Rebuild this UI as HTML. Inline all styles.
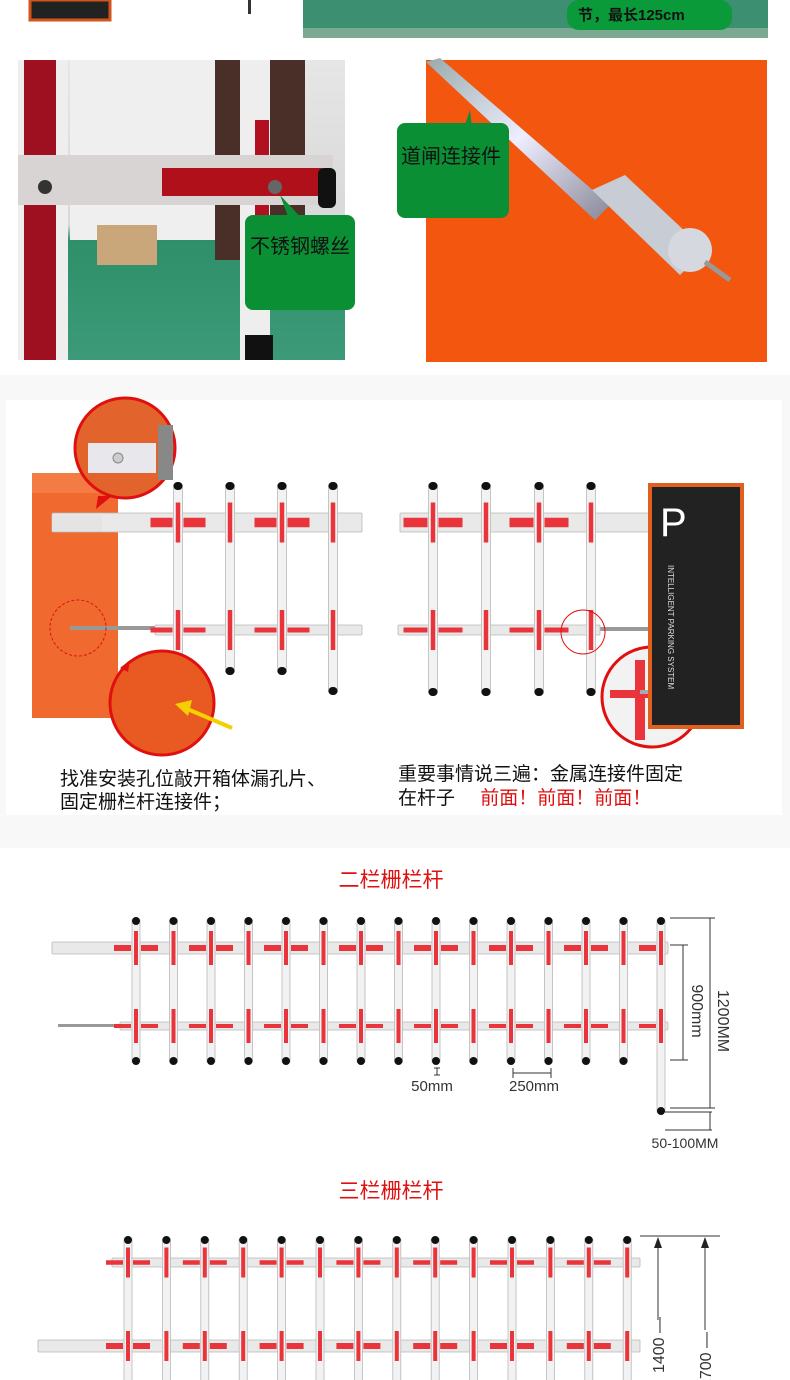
<!DOCTYPE html>
<html><head><meta charset="utf-8"><style>
body{margin:0;width:790px;height:1380px;overflow:hidden;background:#fff;font-family:"Liberation Sans","Noto Sans CJK SC",sans-serif}
svg{display:block}
text{font-family:"Liberation Sans","Noto Sans CJK SC",sans-serif}
</style></head><body>
<svg id="s" width="790" height="1380" viewBox="0 0 790 1380" xmlns="http://www.w3.org/2000/svg">
<defs>
<linearGradient id="rod" x1="0" y1="0" x2="1" y2="1"><stop offset="0" stop-color="#9aa"/><stop offset=".5" stop-color="#eef"/><stop offset="1" stop-color="#889"/></linearGradient>
<linearGradient id="floor" x1="0" y1="0" x2="0" y2="1"><stop offset="0" stop-color="#e6e6e6"/><stop offset=".55" stop-color="#d8d8d8"/><stop offset=".6" stop-color="#2f8f6a"/><stop offset="1" stop-color="#3c9a78"/></linearGradient>
</defs>
<rect x="30" y="0" width="80" height="20" fill="#222"/><rect x="30" y="0" width="80" height="20" fill="none" stroke="#d2541a" stroke-width="3"/>
<rect x="248" y="0" width="3" height="14" fill="#333"/>
<rect x="303" y="0" width="465" height="38" fill="#3d8f72"/>
<rect x="303" y="28" width="465" height="10" fill="#7aa890"/>
<rect x="567" y="0" width="165" height="30" rx="12" fill="#0a9a3a"/>
<text x="578" y="20" font-size="15" font-weight="bold" fill="#111">节，最长125cm</text>
<rect x="18" y="60" width="327" height="300" fill="url(#floor)"/>
<rect x="70" y="60" width="150" height="180" fill="#efefef"/>
<rect x="215" y="60" width="30" height="200" fill="#4a2e28"/>
<rect x="270" y="60" width="35" height="210" fill="#4a2e28"/>
<rect x="97" y="225" width="60" height="40" fill="#c9a77a"/>
<rect x="18" y="60" width="50" height="300" fill="#eee"/><rect x="24" y="60" width="32" height="300" fill="#9e1020"/>
<rect x="240" y="60" width="30" height="300" fill="#eee"/><rect x="255" y="120" width="14" height="140" fill="#b01020"/>
<rect x="245" y="335" width="28" height="25" fill="#111"/>
<rect x="18" y="155" width="315" height="50" fill="#d8d4d4"/><rect x="162" y="168" width="160" height="28" fill="#b0101a"/>
<rect x="318" y="168" width="18" height="40" rx="6" fill="#111"/>
<circle cx="45" cy="187" r="7" fill="#333"/><circle cx="275" cy="187" r="7" fill="#666"/>
<polygon points="280,195 305,222 290,222" fill="#0a8f35"/>
<rect x="245" y="215" width="110" height="95" rx="8" fill="#0a8f35"/>
<text x="250" y="253" font-size="20" fill="#111" font-family="Noto Sans CJK SC">不锈钢螺丝</text>
<rect x="426" y="60" width="341" height="302" fill="#f2560f"/>
<polygon points="426,62 440,58 610,205 595,220" fill="url(#rod)"/>
<polygon points="592,190 625,175 705,250 680,275" fill="#c8ccd4"/>
<circle cx="690" cy="250" r="22" fill="#d5d8de"/>
<line x1="705" y1="262" x2="730" y2="280" stroke="#999" stroke-width="5"/>
<polygon points="455,155 470,110 475,155" fill="#0a8f35"/>
<rect x="397" y="123" width="112" height="95" rx="8" fill="#0a8f35"/>
<text x="401" y="163" font-size="20" fill="#111" font-family="Noto Sans CJK SC">道闸连接件</text>
<rect x="0" y="375" width="790" height="25" fill="#f8f8f8"/>
<rect x="0" y="815" width="790" height="33" fill="#f8f8f8"/>
<rect x="0" y="400" width="6" height="415" fill="#f8f8f8"/><rect x="782" y="400" width="8" height="415" fill="#f8f8f8"/>
<rect x="32" y="473" width="86" height="245" fill="#f06a30"/>
<rect x="32" y="473" width="86" height="20" fill="#f47b44"/>
<g id="g"></g>
<circle cx="125" cy="448" r="50" fill="#e2632c" stroke="#e01010" stroke-width="3"/>
<rect x="88" y="443" width="68" height="30" fill="#e8e8ec"/><circle cx="118" cy="458" r="5" fill="#ccc" stroke="#888"/>
<rect x="158" y="425" width="15" height="55" fill="#888"/>
<polygon points="98,496 112,496 96,509" fill="#e01010"/>
<circle cx="78" cy="628" r="28" fill="none" stroke="#e01010" stroke-dasharray="3,2"/>
<circle cx="162" cy="703" r="52" fill="#e85a22" stroke="#e01010" stroke-width="3"/>
<polygon points="120,668 130,660 128,672" fill="#e01010"/>
<line x1="232" y1="728" x2="185" y2="708" stroke="#f5d000" stroke-width="4"/><polygon points="175,704 192,700 188,716" fill="#f5d000"/>
<text x="60" y="785" font-size="19" fill="#111" font-family="Noto Sans CJK SC">找准安装孔位敲开箱体漏孔片、</text>
<text x="60" y="808" font-size="19" fill="#111" font-family="Noto Sans CJK SC">固定栅栏杆连接件；</text>
<g id="g2"></g>
<rect x="650" y="485" width="92" height="242" fill="#222" stroke="#e06020" stroke-width="4"/>
<text x="660" y="536" font-size="40" fill="#fff">P</text>
<text x="668" y="565" font-size="8" fill="#ddd" transform="rotate(90 668 565)">INTELLIGENT PARKING SYSTEM</text>
<text x="398" y="780" font-size="19" fill="#111" font-family="Noto Sans CJK SC">重要事情说三遍：金属连接件固定</text>
<text x="398" y="804" font-size="19" fill="#111" font-family="Noto Sans CJK SC">在杆子 <tspan fill="#e01010" dx="20">前面！前面！前面！</tspan></text>
<text x="391" y="887" font-size="21" fill="#e01010" text-anchor="middle" font-family="Noto Sans CJK SC">二栏栅栏杆</text>
<text x="391" y="1198" font-size="21" fill="#e01010" text-anchor="middle" font-family="Noto Sans CJK SC">三栏栅栏杆</text>
<g stroke="#333" stroke-width="1" fill="none">
<line x1="710" y1="918" x2="710" y2="1108"/><line x1="670" y1="918" x2="715" y2="918"/><line x1="670" y1="1108" x2="715" y2="1108"/>
<line x1="683" y1="945" x2="683" y2="1060"/><line x1="670" y1="945" x2="688" y2="945"/><line x1="670" y1="1060" x2="688" y2="1060"/>
<line x1="437" y1="1068" x2="437" y2="1075"/><line x1="434" y1="1068" x2="440" y2="1068"/><line x1="434" y1="1075" x2="440" y2="1075"/>
<line x1="513" y1="1073" x2="551" y2="1073"/><line x1="513" y1="1068" x2="513" y2="1078"/><line x1="551" y1="1068" x2="551" y2="1078"/>
<line x1="665" y1="1112" x2="712" y2="1112"/><line x1="665" y1="1130" x2="712" y2="1130"/><line x1="710" y1="1112" x2="710" y2="1130"/>
<line x1="658" y1="1240" x2="658" y2="1320"/><line x1="705" y1="1240" x2="705" y2="1330"/>
<line x1="640" y1="1236" x2="720" y2="1236"/>
</g>
<polygon points="654,1248 662,1248 658,1237" fill="#222"/><polygon points="701,1248 709,1248 705,1237" fill="#222"/>
<text x="726" y="1013" font-size="16" fill="#333" text-anchor="middle" transform="rotate(90 718 1013)">1200MM</text>
<text x="700" y="1003" font-size="16" fill="#333" text-anchor="middle" transform="rotate(90 692 1003)">900mm</text>
<text x="432" y="1091" font-size="15" fill="#333" text-anchor="middle">50mm</text>
<text x="534" y="1091" font-size="15" fill="#333" text-anchor="middle">250mm</text>
<text x="685" y="1148" font-size="14" fill="#333" text-anchor="middle">50-100MM</text>
<text x="664" y="1345" font-size="16" fill="#333" text-anchor="middle" transform="rotate(-90 664 1345)">1400 —</text>
<text x="711" y="1360" font-size="16" fill="#333" text-anchor="middle" transform="rotate(-90 711 1360)">1700 —</text>
</svg>
<script>
var G=document.getElementById('g'),N='http://www.w3.org/2000/svg';
function r(x,y,w,h,f,rx,st){var e=document.createElementNS(N,'rect');e.setAttribute('x',x);e.setAttribute('y',y);e.setAttribute('width',w);e.setAttribute('height',h);e.setAttribute('fill',f);if(rx)e.setAttribute('rx',rx);if(st){e.setAttribute('stroke',st);e.setAttribute('stroke-width','0.8');}G.appendChild(e);}
function beam(x1,x2,y,h){r(x1,y,x2-x1,h,'#e9e9e9',1,'#b8b8b8');}
function post(x,y1,y2,w){r(x-w/2,y1,w,y2-y1,'#f2f2f2',0,'#b8b8b8');r(x-w/2,y1-3,w,8,'#111',4);r(x-w/2,y2-5,w,8,'#111',4);}
function fence(xs,bars,y1,y2s,w,vl,hl,gap){
 bars.forEach(function(b){beam(b[0],b[1],b[2],b[3]);});
 xs.forEach(function(x,i){post(x,y1,y2s[i],w);
  bars.forEach(function(b){var cy=b[2]+b[3]/2;r(x-w/4,cy-vl/2,w/2,vl,'#e8343a');
   if(i%2==0&&b[4]!==false){var hh=Math.max(3,b[3]*0.5);r(x-w/2-hl-1,cy-hh/2,hl,hh,'#e8343a');if(x+w/2+1+hl<b[1])r(x+w/2+1,cy-hh/2,hl,hh,'#e8343a');}});});}
// middle left
r(70,626,85,4,'#999');
fence([178,230,282,333],[[52,362,513,19],[155,362,625,10]],485,[672,672,672,692],9,40,22);
r(52,515,50,16,'#e4e4e4');
// middle right
r(600,627,50,4,'#999');
fence([433,486,539,591],[[400,650,513,19],[398,600,625,10]],485,[693,693,693,693],9,40,24);
G=document.getElementById('g2');
var c=document.createElementNS(N,'circle');c.setAttribute('cx',583);c.setAttribute('cy',632);c.setAttribute('r',22);c.setAttribute('fill','none');c.setAttribute('stroke','#e01010');G.appendChild(c);
c=document.createElementNS(N,'circle');c.setAttribute('cx',652);c.setAttribute('cy',697);c.setAttribute('r',50);c.setAttribute('fill','#f2f2f2');c.setAttribute('stroke','#e01010');c.setAttribute('stroke-width',3);G.appendChild(c);
r(635,660,10,80,'#e8343a');r(610,690,80,8,'#e8343a');r(640,690,60,4,'#aaa');
G=document.getElementById('g');
// two bar
var xs=[],y2=[];for(var i=0;i<15;i++){xs.push(136+i*37.5);y2.push(i==14?1112:1062);}
r(58,1024,62,3,'#999');
fence(xs,[[52,668,942,12],[120,668,1022,8]],920,y2,8,34,17);
// three bar
var ys=[],y3=[];for(var i=0;i<14;i++){ys.push(128+i*38.4);y3.push(1390);}
fence(ys,[[112,640,1258,9],[38,640,1340,12]],1239,y3,8,30,17);
</script>
</body></html>
